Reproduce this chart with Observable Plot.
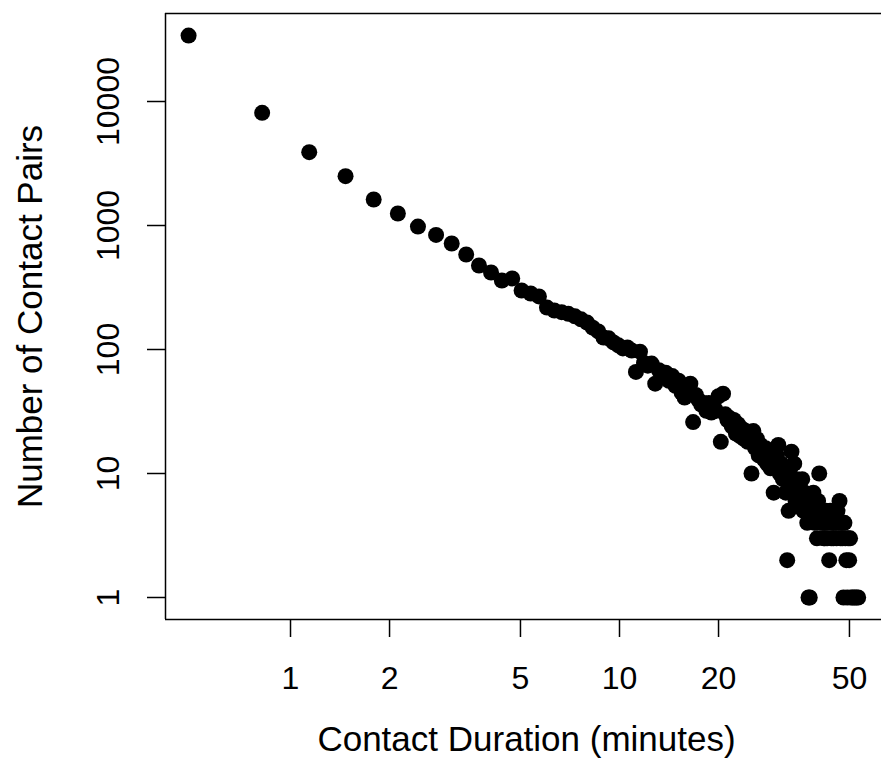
<!DOCTYPE html>
<html><head><meta charset="utf-8">
<script src="https://cdn.jsdelivr.net/npm/d3@7"></script>
<script src="https://cdn.jsdelivr.net/npm/@observablehq/plot@0.6"></script>
<style>body{margin:0;background:#fff}</style>
</head><body><div id="chart"></div>
<script>
const durations = [
0.49,0.82,1.14,1.47,1.79,2.12,2.44,2.77,3.09,3.42,
3.74,4.07,4.39,4.72,5.04,5.37,5.69,6.02,6.34,6.67,
6.99,7.32,7.64,7.97,8.29,8.62,8.94,9.27,9.59,9.92,
10.24,10.57,10.89,11.22,11.54,11.87,12.19,12.52,12.84,13.17,
13.49,13.82,14.14,14.47,14.79,15.12,15.44,15.77,16.09,16.42,
16.74,17.07,17.39,17.72,18.04,18.37,18.69,19.02,19.34,19.67,
19.99,20.32,20.64,20.97,21.29,21.62,21.94,22.27,22.59,22.92,
23.24,23.57,23.89,24.22,24.54,24.87,25.19,25.52,25.84,26.17,
26.49,26.82,27.14,27.47,27.79,28.12,28.44,28.77,29.09,29.42,
29.74,30.07,30.39,30.72,31.04,31.37,31.69,32.02,32.34,32.67,
32.99,33.32,33.64,33.97,34.29,34.62,34.94,35.27,35.59,35.92,
36.24,36.57,36.89,37.22,37.54,37.87,38.19,38.52,38.84,39.17,
39.49,39.82,40.14,40.47,40.79,41.12,41.44,41.77,42.09,42.42,
42.74,43.07,43.39,43.72,44.04,44.37,44.69,45.02,45.34,45.67,
45.99,46.32,46.64,46.97,47.29,47.62,47.94,48.27,48.59,48.92,
49.24,49.57,49.89,50.22,50.54,51.19,51.84,52.49,53.14
];
const counts = [
34000,8100,3900,2500,1620,1250,980,840,716,584,
476,418,360,374,299,283,268,218,206,200,
194,185,175,165,150,140,125,123,114,108,
102,104,98,66,96,78,74,77,53,68,
62,65,56,61,51,56,45,41,50,53,
26,43,39,36,37,32,37,31,35,32,
42,18,44,30,27,28,24,27,21,25,
20,23,19,22,18,20,10,22,16,19,
14,17,15,13,16,12,15,11,13,7,
12,14,17,10,12,9,10,7,2,5,
11,15,8,12,6,9,6,8,7,9,
5,7,6,4,1,1,6,5,7,4,
5,3,6,10,4,5,4,3,3,5,
3,4,2,5,3,4,3,5,4,3,
5,4,6,3,4,3,1,4,3,2,
1,3,2,3,1,1,1,1,1
];
const xTicks = [1, 2, 5, 10, 20, 50];
const yTicks = [1, 10, 100, 1000, 10000];
const xTitle = "Contact Duration (minutes)";
const yTitle = "Number of Contact Pairs";

const data = durations.map((d, i) => ({duration: d, count: counts[i]}));
const xDomain = [0.4169, 62.57];
const yDomain = [0.6646, 51256];

const chart = Plot.plot({
  width: 881, height: 771,
  marginLeft: 165, marginRight: 0, marginTop: 13, marginBottom: 152,
  style: {fontFamily: "'Liberation Sans', Arial, sans-serif", color: "#000", background: "#fff"},
  x: {type: "log", domain: xDomain},
  y: {type: "log", domain: yDomain},
  marks: [
    Plot.axisX({ticks: xTicks, tickSize: 18, tickPadding: 29, tickFormat: d => String(d), fontSize: 32, label: null, strokeWidth: 1.5}),
    Plot.axisY({ticks: yTicks, tickSize: 18, tickPadding: 29, tickRotate: -90, tickFormat: d => String(d), fontSize: 32, label: null, strokeWidth: 1.5}),
    Plot.ruleY([yDomain[0], yDomain[1]], {strokeWidth: 1.5}),
    Plot.ruleX([xDomain[0]], {strokeWidth: 1.5}),
    Plot.dot(data, {x: "duration", y: "count", r: 8, fill: "#000"}),
    Plot.text([xTitle], {frameAnchor: "bottom", dy: 131, dx: 3, fontSize: 35}),
    Plot.text([yTitle], {frameAnchor: "left", textAnchor: "middle", dx: -135, rotate: -90, fontSize: 35})
  ]
});
document.getElementById("chart").appendChild(chart);
</script>
</body></html>
